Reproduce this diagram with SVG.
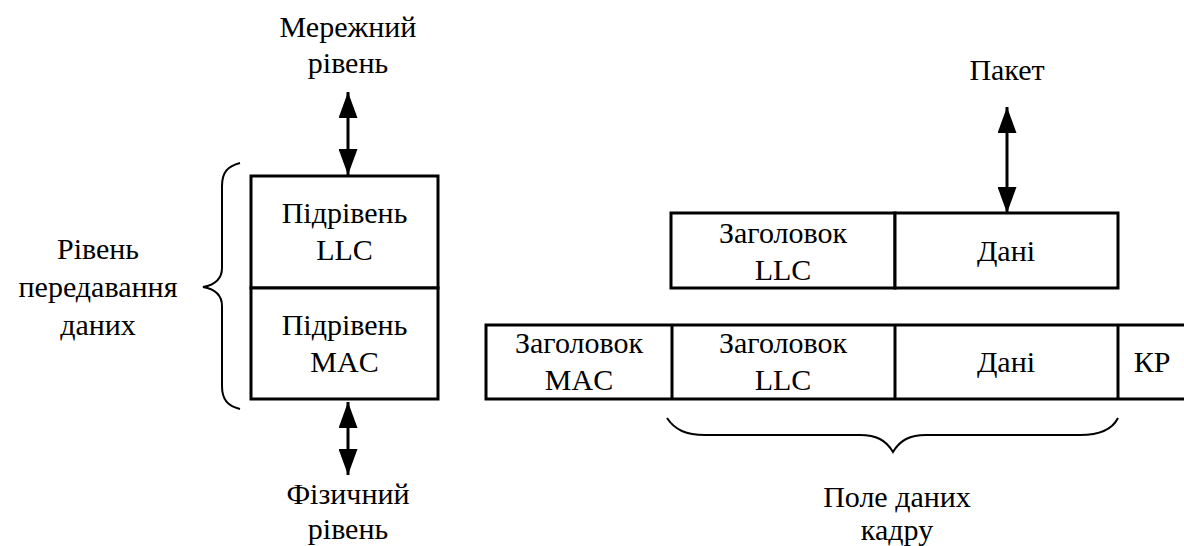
<svg xmlns="http://www.w3.org/2000/svg" width="1184" height="546" viewBox="0 0 1184 546">
<style>
text{font-family:"Liberation Serif","Times New Roman",serif;font-size:30px;fill:#000;text-anchor:middle}
.box{fill:#fff;stroke:#000;stroke-width:3}
.ln{fill:none;stroke:#000;stroke-width:3}
.br{fill:none;stroke:#000;stroke-width:2}
</style>
<defs>
<marker id="ah" viewBox="0 0 26 19" refX="26" refY="9.5" markerWidth="26" markerHeight="19" markerUnits="userSpaceOnUse" orient="auto-start-reverse">
<path d="M0,0 L26,9.5 L0,19 Z" fill="#000"/>
</marker>
</defs>
<rect width="1184" height="546" fill="#fff"/>
<g id="labels">
<text x="348" y="37">Мережний</text>
<text x="348" y="73">рівень</text>
<text x="98" y="259">Рівень</text>
<text x="98" y="297">передавання</text>
<text x="98" y="335">даних</text>
<text x="348" y="504">Фізичний</text>
<text x="348" y="539">рівень</text>
<text x="1007" y="80">Пакет</text>
<text x="897" y="507">Поле даних</text>
<text x="897" y="540">кадру</text>
</g>
<g id="llc-sublayer">
<rect class="box" x="251" y="176" width="187" height="112"/>
<text x="344.5" y="223">Підрівень</text>
<text x="344.5" y="260">LLC</text>
</g>
<g id="mac-sublayer">
<rect class="box" x="251" y="288" width="187" height="111"/>
<text x="344.5" y="335">Підрівень</text>
<text x="344.5" y="372">MAC</text>
</g>
<g id="llc-frame">
<rect class="box" x="671" y="213" width="224" height="75"/>
<text x="783" y="243">Заголовок</text>
<text x="783" y="280">LLC</text>
<rect class="box" x="895" y="213" width="223" height="75"/>
<text x="1006" y="261">Дані</text>
</g>
<g id="mac-frame">
<path class="ln" d="M1186,325 H486 V399 H1186"/>
<line class="ln" x1="672" y1="325" x2="672" y2="399"/>
<line class="ln" x1="895" y1="325" x2="895" y2="399"/>
<line class="ln" x1="1118" y1="325" x2="1118" y2="399"/>
<text x="579" y="353">Заголовок</text>
<text x="579" y="390">MAC</text>
<text x="783" y="353">Заголовок</text>
<text x="783" y="390">LLC</text>
<text x="1006" y="372">Дані</text>
<text x="1152" y="372">КР</text>
</g>
<g id="connectors">
<line class="ln" x1="348" y1="92" x2="348" y2="175" marker-start="url(#ah)" marker-end="url(#ah)"/>
<line class="ln" x1="348" y1="402" x2="348" y2="475" marker-start="url(#ah)" marker-end="url(#ah)"/>
<line class="ln" x1="1007" y1="107" x2="1007" y2="213" marker-start="url(#ah)" marker-end="url(#ah)"/>
<path class="br" d="M240,163 C228,166 222,172 222,186 V268 C222,280 214,285 203,287 C214,289 222,294 222,306 V386 C222,400 228,406 240,409"/>
<path class="br" d="M667,418 C675,430 686,435 705,435 H860 C876,435 886,440 893,452 C900,440 910,435 926,435 H1080 C1100,435 1112,430 1118,418"/>
</g>
</svg>
